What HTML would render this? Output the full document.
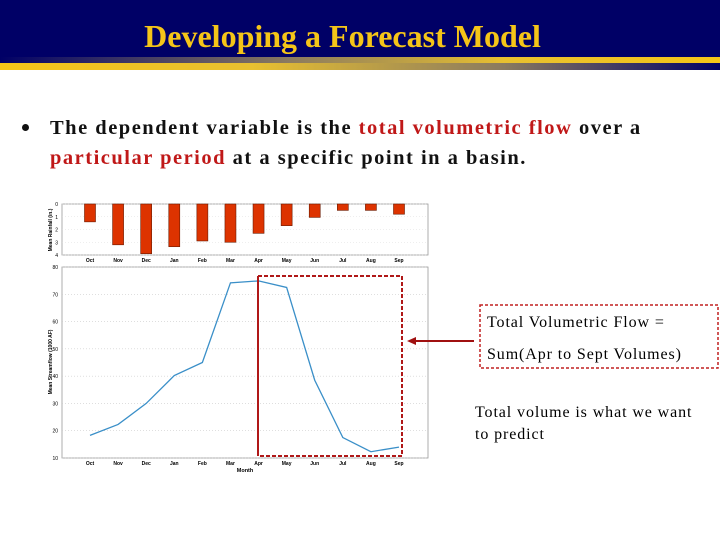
<!DOCTYPE html>
<html><head><meta charset="utf-8"><style>
body{margin:0;width:720px;height:540px;background:#fff;position:relative;overflow:hidden;font-family:"Liberation Serif",serif}
#hdr{position:absolute;left:0;top:0;width:720px;height:58px;background:#000066}
#title{position:absolute;left:0;width:685px;top:18px;text-align:center;color:#f5c518;font-weight:bold;font-size:32px;white-space:nowrap}
.s1{position:absolute;left:0;top:57px;width:720px;height:6px;background:linear-gradient(90deg,#000066 0%,#8a7a60 40%,#e8c030 70%,#f5c518 100%)}
.s2{position:absolute;left:0;top:63px;width:720px;height:7px;background:linear-gradient(90deg,#f5c518 0%,#e8c030 35%,#8a7a60 70%,#000066 100%)}
#bullet{position:absolute;left:22px;top:124px;width:7px;height:7px;border-radius:50%;background:#111}
#txt{position:absolute;left:50px;top:113px;width:680px;font-family:"Liberation Serif",serif;font-weight:bold;font-size:20.5px;letter-spacing:1.5px;line-height:30px;color:#111;white-space:nowrap}
.red{color:#c01818}
</style></head><body>
<div id="hdr"><div id="title">Developing a Forecast Model</div></div>
<div class="s1"></div>
<div class="s2"></div>
<div id="bullet"></div>
<div id="txt">The dependent variable is the <span class="red">total volumetric flow</span> over a<br><span class="red">particular period</span> at a specific point in a basin.</div>
<svg id="chart" width="720" height="540" style="position:absolute;left:0;top:0"></svg>
<script>
const months=["Oct","Nov","Dec","Jan","Feb","Mar","Apr","May","Jun","Jul","Aug","Sep"];
const rain=[1.4,3.2,3.9,3.35,2.9,3.0,2.3,1.7,1.05,0.5,0.5,0.8];
const flow=[18.3,22.3,30,40.2,45,74.2,74.9,72.5,38.5,17.5,12.3,14];
const rainTicks=[0,1,2,3,4];
const flowTicks=[10,20,30,40,50,60,70,80];
const svg=document.getElementById('chart');const NS='http://www.w3.org/2000/svg';
function mk(t,a,p){const e=document.createElementNS(NS,t);for(const k in a)e.setAttribute(k,a[k]);(p||svg).appendChild(e);return e;}
const L=62,R=428;
const xm=i=>90+i*(399-90)/11;
const yr=v=>204+v*(255-204)/4;
const yf=v=>458-(v-10)*(458-267)/70;
let g=mk('g',{});
mk('rect',{x:L,y:204,width:R-L,height:51,fill:'none',stroke:'#999','stroke-width':0.8},g);
rainTicks.forEach(t=>{const tx=mk('text',{x:58,y:yr(t)+2,'font-size':5,'text-anchor':'end','font-family':'Liberation Sans'},g);tx.textContent=t;

mk('line',{x1:L,x2:R,y1:yr(t),y2:yr(t),stroke:'#ddd','stroke-dasharray':'1,2','stroke-width':0.6},g);});
const rl=mk('text',{x:0,y:0,'font-size':5,'font-family':'Liberation Sans','font-weight':'bold',transform:'translate(52,230) rotate(-90)','text-anchor':'middle'},g);rl.textContent='Mean Rainfall (in.)';

rain.forEach((v,i)=>{const b=mk('rect',{x:xm(i)-5.5,y:yr(0),width:11,height:yr(v)-yr(0),fill:'#dd3300',stroke:'#6a1a00','stroke-width':0.6},g);

const t=mk('text',{x:xm(i),y:262,'font-size':5,'text-anchor':'middle','font-family':'Liberation Sans','font-weight':'bold'},g);t.textContent=months[i];
});
let h=mk('g',{});
mk('rect',{x:L,y:267,width:R-L,height:191,fill:'none',stroke:'#999','stroke-width':0.8},h);
flowTicks.forEach(t=>{const tx=mk('text',{x:58,y:yf(t)+2,'font-size':5,'text-anchor':'end','font-family':'Liberation Sans'},h);tx.textContent=t;

mk('line',{x1:L,x2:R,y1:yf(t),y2:yf(t),stroke:'#ccc','stroke-dasharray':'1,2','stroke-width':0.6},h);});
months.forEach((m,i)=>{const t=mk('text',{x:xm(i),y:465,'font-size':5,'text-anchor':'middle','font-family':'Liberation Sans','font-weight':'bold'},h);t.textContent=m;
});
const xl=mk('text',{x:245,y:472,'font-size':5.5,'text-anchor':'middle','font-family':'Liberation Sans','font-weight':'bold'},h);xl.textContent='Month';

const fl=mk('text',{x:0,y:0,'font-size':5,'font-family':'Liberation Sans','font-weight':'bold',transform:'translate(52,362) rotate(-90)','text-anchor':'middle'},h);fl.textContent='Mean Streamflow (1000 AF)';

const ln=mk('polyline',{points:flow.map((v,i)=>xm(i)+','+yf(v)).join(' '),fill:'none',stroke:'#3a8fc8','stroke-width':1.3},h);

const hb=mk('rect',{x:258,y:276,width:144,height:180,fill:'none',stroke:'#b01818','stroke-width':2,'stroke-dasharray':'4,2'});

mk('line',{x1:258,y1:276,x2:258,y2:456,stroke:'#b01818','stroke-width':2});
const ar=mk('line',{x1:474,y1:341,x2:414,y2:341,stroke:'#a01010','stroke-width':2});

mk('polygon',{points:'407,341 416,337 416,345',fill:'#a01010'});
const tb=mk('rect',{x:480,y:305,width:238,height:63,fill:'none',stroke:'#c02020','stroke-width':1.5,'stroke-dasharray':'3,2'});

[['Total Volumetric Flow =',487,327,'total-flow-label'],['Sum(Apr to Sept Volumes)',487,359,'sum-label'],['Total volume is what we want',475,417,'note-line-1'],['to predict',475,439,'note-line-2']].forEach(a=>{
const t=mk('text',{x:a[1],y:a[2],'font-size':16,'letter-spacing':0.9,'font-family':'Liberation Serif',fill:'#000'});t.textContent=a[0];
});
</script>
</body></html>
